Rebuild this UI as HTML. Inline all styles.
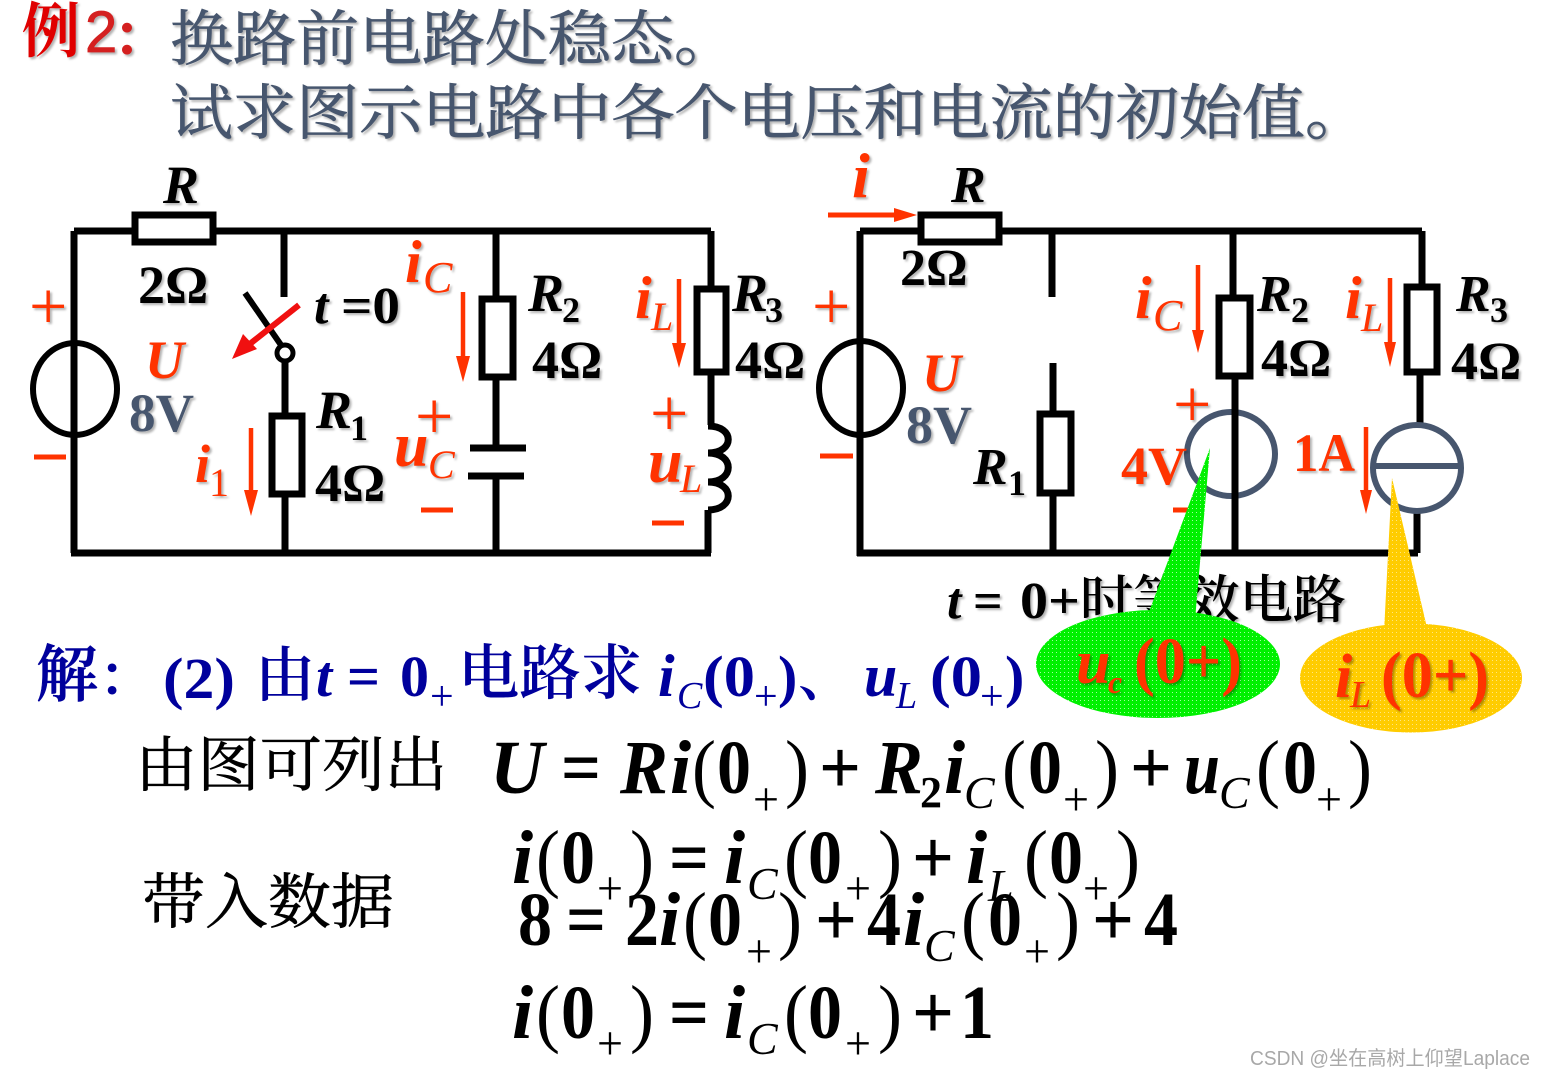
<!DOCTYPE html>
<html><head><meta charset="utf-8"><style>
html,body{margin:0;padding:0;background:#fff;width:1544px;height:1078px;overflow:hidden}
svg{display:block}
text{font-family:"Liberation Serif","Noto Serif CJK SC",serif;font-weight:bold}
.i{font-style:italic}
.cj{font-family:"Liberation Serif","Noto Serif CJK SC",serif}
.w{fill:none;stroke:#000;stroke-width:7}
.box{fill:#fff;stroke:#000;stroke-width:7}
.r{fill:#f30}
.k{fill:#000}
.g{fill:#47566e}
.s{filter:drop-shadow(2px 2px 1px rgba(0,0,0,.3))}
.bl{fill:#00009c}
.f{font-size:76px}
.sb{font-size:48px;font-weight:normal}
.a{fill:none;stroke:#f30;stroke-width:4.5}
.pl{font-size:68px;font-weight:normal}
.th{font-weight:normal;stroke-width:.7}
</style></head><body>
<svg width="1544" height="1078" viewBox="0 0 1544 1078" xmlns="http://www.w3.org/2000/svg">
<defs>
<pattern id="dg" width="4" height="4" patternUnits="userSpaceOnUse"><rect width="4" height="4" fill="#00f000"/><rect width="1" height="1" fill="#a0ffa0"/></pattern>
<pattern id="dy" width="4" height="4" patternUnits="userSpaceOnUse"><rect width="4" height="4" fill="#fc0"/><rect width="1" height="1" fill="#ffe680"/></pattern>
</defs>
<!-- title -->
<g class="s">
<text class="cj" x="22" y="52" font-size="60" fill="#e00000" textLength="58" lengthAdjust="spacingAndGlyphs">例</text>
<text x="85" y="52" font-size="58" fill="#d42020" style="font-family:'Liberation Sans';font-weight:normal;stroke:#d42020;stroke-width:.8">2</text>
<text class="cj" x="112" y="56" font-size="56" fill="#d42020">：</text>
<text class="cj g th" x="170" y="60" font-size="60" stroke="#47566e" textLength="567" lengthAdjust="spacingAndGlyphs">换路前电路处稳态。</text>
<text class="cj g th" x="170" y="134" font-size="60" stroke="#47566e" textLength="1198" lengthAdjust="spacingAndGlyphs">试求图示电路中各个电压和电流的初始值。</text>
</g>
<!-- left circuit -->
<path class="w" d="M74 231H711M74 231V553M71 553H711M284 231V297M285 361V553M496 231V447M496 476V553M711 231V425M708 510V553"/>
<rect class="box" x="135" y="215" width="78" height="27"/>
<rect class="box" x="272" y="416" width="30" height="78"/>
<rect class="box" x="482" y="299" width="31" height="78"/>
<rect class="box" x="697" y="289" width="29" height="83"/>
<ellipse cx="75" cy="389" rx="42" ry="46" fill="none" stroke="#000" stroke-width="6"/>
<path class="w" d="M74 342V436"/>
<path d="M245 293L281 345" stroke="#000" stroke-width="6" fill="none"/>
<circle cx="285" cy="353" r="8" fill="#fff" stroke="#000" stroke-width="5"/>
<path d="M299 305L246 347" stroke="#f01010" stroke-width="6"/>
<path d="M232 359L257 349L243 334Z" fill="#f01010"/>
<path d="M470 448H526M468 476H524" stroke="#000" stroke-width="7"/>
<path d="M708 426C735 426 735 453 708 453C735 453 735 482 708 482C735 482 735 510 708 510" fill="none" stroke="#000" stroke-width="7"/>
<!-- right circuit -->
<path class="w" d="M860 231H1422M860 231V556M857 553H1418M1052 231V297M1053 363V553M1233 231V297M1235 376V553M1422 231V287M1420 372V428M1417 510V553"/>
<rect class="box" x="921" y="215" width="78" height="27"/>
<rect class="box" x="1040" y="414" width="31" height="79"/>
<rect class="box" x="1219" y="298" width="31" height="78"/>
<rect class="box" x="1407" y="287" width="30" height="85"/>
<ellipse cx="861" cy="388" rx="42" ry="47" fill="none" stroke="#000" stroke-width="6"/>
<path class="w" d="M860 340V436"/>
<ellipse cx="1231" cy="454" rx="44" ry="42" fill="none" stroke="#47566e" stroke-width="6"/>
<path class="w" d="M1235 408V500"/>
<ellipse cx="1417" cy="468" rx="44" ry="43" fill="none" stroke="#47566e" stroke-width="6"/>
<path d="M1373 466H1461" stroke="#47566e" stroke-width="6"/>
<!-- red arrows -->
<g>
<path class="a" d="M251 428V492"/><path class="r" d="M244 490H258L251 516Z"/>
<path class="a" d="M463 292V358"/><path class="r" d="M456 356H470L463 382Z"/>
<path class="a" d="M679 279V345"/><path class="r" d="M672 343H686L679 368Z"/>
<path d="M828 215H896" stroke="#f30" stroke-width="5"/><path class="r" d="M894 208L917 215L894 222Z"/>
<path class="a" d="M1198 265V332"/><path class="r" d="M1192 330H1204L1198 353Z"/>
<path class="a" d="M1390 278V344"/><path class="r" d="M1384 342H1396L1390 367Z"/>
<path class="a" d="M1366 427V492"/><path class="r" d="M1360 490H1372L1366 514Z"/>
</g>
<!-- left labels -->
<g class="s">
<text class="k i" x="163" y="203" font-size="54">R</text>
<text class="k" x="138" y="303" font-size="54">2Ω</text>
<text class="k i" x="314" y="323" font-size="52">t</text>
<text class="k" x="341" y="323" font-size="52" textLength="59" lengthAdjust="spacingAndGlyphs">=0</text>
<text class="r i" x="145" y="378" font-size="54">U</text>
<text class="g" x="129" y="431" font-size="54" textLength="65" lengthAdjust="spacingAndGlyphs">8V</text>
<text class="r pl" x="29" y="329">+</text>
<text class="r i" x="195" y="482" font-size="54">i</text><text class="r" x="209" y="496" font-size="40" style="font-weight:normal">1</text>
<text class="k i" x="316" y="428" font-size="54">R</text><text class="k" x="350" y="440" font-size="36">1</text>
<text class="k" x="315" y="501" font-size="54">4Ω</text>
<text class="r i" x="405" y="282" font-size="60">i</text><text class="r i" x="423" y="292" font-size="44" style="font-weight:normal">C</text>
<text class="k i" x="528" y="311" font-size="54">R</text><text class="k" x="562" y="322" font-size="36">2</text>
<text class="k" x="532" y="378" font-size="54">4Ω</text>
<text class="r pl" x="415" y="439">+</text>
<text class="r i" x="394" y="466" font-size="62">u</text><text class="r i" x="428" y="478" font-size="40" style="font-weight:normal">C</text>
<text class="r i" x="635" y="318" font-size="60">i</text><text class="r i" x="651" y="330" font-size="40" style="font-weight:normal">L</text>
<text class="k i" x="732" y="311" font-size="54">R</text><text class="k" x="765" y="322" font-size="36">3</text>
<text class="k" x="735" y="378" font-size="54">4Ω</text>
<text class="r pl" x="650" y="436">+</text>
<text class="r i" x="648" y="482" font-size="62">u</text><text class="r i" x="680" y="492" font-size="40" style="font-weight:normal">L</text>
</g>
<path d="M34 457H66M421 510H453M652 523H684M820 456H853M1173 510H1188" stroke="#f30" stroke-width="5"/>
<!-- right labels -->
<g class="s">
<text class="r i" x="852" y="197" font-size="64">i</text>
<text class="k i" x="951" y="202" font-size="52">R</text>
<text class="k" x="900" y="285" font-size="52">2Ω</text>
<text class="r pl" x="812" y="329">+</text>
<text class="r i" x="922" y="391" font-size="54">U</text>
<text class="g" x="906" y="443" font-size="54" textLength="66" lengthAdjust="spacingAndGlyphs">8V</text>
<text class="k i" x="973" y="484" font-size="52">R</text><text class="k" x="1008" y="495" font-size="36">1</text>
<text class="r i" x="1135" y="318" font-size="60">i</text><text class="r i" x="1153" y="330" font-size="44" style="font-weight:normal">C</text>
<text class="k i" x="1257" y="311" font-size="52">R</text><text class="k" x="1291" y="322" font-size="36">2</text>
<text class="k" x="1261" y="376" font-size="54">4Ω</text>
<text class="r i" x="1345" y="318" font-size="60">i</text><text class="r i" x="1361" y="331" font-size="40" style="font-weight:normal">L</text>
<text class="k i" x="1456" y="311" font-size="52">R</text><text class="k" x="1490" y="322" font-size="36">3</text>
<text class="k" x="1451" y="379" font-size="54">4Ω</text>
<text class="r pl" x="1173" y="427">+</text>
<text class="r" x="1121" y="484" font-size="54" textLength="66" lengthAdjust="spacingAndGlyphs">4V</text>
<text class="r" x="1293" y="471" font-size="54" textLength="62" lengthAdjust="spacingAndGlyphs">1A</text>
</g>
<!-- t=0+ caption -->
<g class="s">
<text class="k i" x="947" y="618" font-size="52">t</text>
<text class="k" x="973" y="618" font-size="52">=</text>
<text class="k" x="1020" y="618" font-size="52" textLength="60" lengthAdjust="spacingAndGlyphs">0+</text>
<text class="k cj" x="1080" y="618" font-size="52" textLength="266" lengthAdjust="spacingAndGlyphs" style="font-weight:600">时等效电路</text>
</g>
<!-- callouts -->
<path d="M1036 664A122 54 0 1 0 1280 664A122 54 0 1 0 1036 664Z" fill="url(#dg)"/>
<path d="M1146 620L1210 448L1195 620Z" fill="url(#dg)"/>
<path d="M1300 678A110 54 0 1 0 1522 678A110 54 0 1 0 1300 678Z" fill="url(#dy)"/>
<path d="M1384 632L1392 478L1428 632Z" fill="url(#dy)"/>
<g class="s">
<text class="r i" x="1076" y="683" font-size="62">u</text><text class="r i" x="1108" y="693" font-size="32">c</text>
<text class="r" x="1134" y="683" font-size="66" textLength="108" lengthAdjust="spacingAndGlyphs">(0+)</text>
<text class="r i" x="1335" y="697" font-size="62">i</text><text class="r i" x="1350" y="707" font-size="38" style="font-weight:normal">L</text>
<text class="r" x="1381" y="697" font-size="66" textLength="108" lengthAdjust="spacingAndGlyphs">(0+)</text>
</g>
<!-- solve line -->
<g class="bl">
<text class="cj" x="36" y="696" font-size="62" stroke="#00009c" style="font-weight:600;stroke-width:.6">解</text>
<text class="cj" x="98" y="696" font-size="56" style="font-weight:600">：</text>
<text x="163" y="698" font-size="58" textLength="72" lengthAdjust="spacingAndGlyphs">(2)</text>
<text class="cj" x="255" y="696" font-size="60" style="font-weight:600">由</text>
<text class="i" x="316" y="696" font-size="58">t</text>
<text x="347" y="696" font-size="58">=</text>
<text x="400" y="696" font-size="58">0</text>
<text x="430" y="710" font-size="42" style="font-weight:normal">+</text>
<text class="cj" x="458" y="694" font-size="60" textLength="184" lengthAdjust="spacingAndGlyphs" style="font-weight:600">电路求</text>
<text class="i" x="658" y="696" font-size="60">i</text>
<text class="i" x="677" y="708" font-size="38" style="font-weight:normal">C</text>
<text x="703" y="696" font-size="58" textLength="52" lengthAdjust="spacingAndGlyphs">(0</text>
<text x="754" y="710" font-size="42" style="font-weight:normal">+</text>
<text x="778" y="696" font-size="58">)</text>
<text class="cj" x="798" y="696" font-size="56" style="font-weight:600">、</text>
<text class="i" x="864" y="696" font-size="60">u</text>
<text class="i" x="896" y="708" font-size="38" style="font-weight:normal">L</text>
<text x="930" y="696" font-size="58" textLength="52" lengthAdjust="spacingAndGlyphs">(0</text>
<text x="980" y="710" font-size="42" style="font-weight:normal">+</text>
<text x="1005" y="696" font-size="58">)</text>
</g>
<!-- Chinese labels -->
<g class="k">
<text class="cj" x="135" y="786" font-size="60" stroke="#000" textLength="312" lengthAdjust="spacingAndGlyphs" style="font-weight:normal;stroke-width:.6">由图可列出</text>
<text class="cj" x="142" y="923" font-size="60" stroke="#000" textLength="252" lengthAdjust="spacingAndGlyphs" style="font-weight:normal;stroke-width:.6">带入数据</text>
</g>
<!-- equation 1 -->
<g class="k f">
<text class="i" x="490" y="793" textLength="54" lengthAdjust="spacingAndGlyphs">U</text>
<text x="561" y="793" textLength="40" lengthAdjust="spacingAndGlyphs">=</text>
<text class="i" x="620" y="793" textLength="48" lengthAdjust="spacingAndGlyphs">R</text>
<text class="i" x="670" y="793">i</text>
<text x="692" y="793" style="font-weight:normal" textLength="24" lengthAdjust="spacingAndGlyphs">(</text>
<text x="717" y="793" textLength="34" lengthAdjust="spacingAndGlyphs">0</text>
<text class="sb" x="753" y="815" textLength="26" lengthAdjust="spacingAndGlyphs">+</text>
<text x="785" y="793" style="font-weight:normal" textLength="24" lengthAdjust="spacingAndGlyphs">)</text>
<text x="819" y="793" textLength="42" lengthAdjust="spacingAndGlyphs">+</text>
<text class="i" x="875" y="793" textLength="48" lengthAdjust="spacingAndGlyphs">R</text>
<text x="920" y="807" font-size="44" style="font-size:44px">2</text>
<text class="i" x="944" y="793">i</text>
<text class="i sb" x="964" y="808" style="font-size:46px">C</text>
<text x="1002" y="793" style="font-weight:normal" textLength="24" lengthAdjust="spacingAndGlyphs">(</text>
<text x="1028" y="793" textLength="34" lengthAdjust="spacingAndGlyphs">0</text>
<text class="sb" x="1063" y="815" textLength="26" lengthAdjust="spacingAndGlyphs">+</text>
<text x="1095" y="793" style="font-weight:normal" textLength="24" lengthAdjust="spacingAndGlyphs">)</text>
<text x="1130" y="793" textLength="42" lengthAdjust="spacingAndGlyphs">+</text>
<text class="i" x="1184" y="793" textLength="36" lengthAdjust="spacingAndGlyphs">u</text>
<text class="i sb" x="1219" y="808" style="font-size:46px">C</text>
<text x="1256" y="793" style="font-weight:normal" textLength="24" lengthAdjust="spacingAndGlyphs">(</text>
<text x="1283" y="793" textLength="34" lengthAdjust="spacingAndGlyphs">0</text>
<text class="sb" x="1316" y="815" textLength="26" lengthAdjust="spacingAndGlyphs">+</text>
<text x="1348" y="793" style="font-weight:normal" textLength="24" lengthAdjust="spacingAndGlyphs">)</text>
</g>
<!-- equation 2 -->
<g class="k f">
<text class="i" x="512" y="883">i</text>
<text x="536" y="883" style="font-weight:normal" textLength="24" lengthAdjust="spacingAndGlyphs">(</text>
<text x="561" y="883" textLength="34" lengthAdjust="spacingAndGlyphs">0</text>
<text class="sb" x="597" y="904" textLength="26" lengthAdjust="spacingAndGlyphs">+</text>
<text x="630" y="883" style="font-weight:normal" textLength="24" lengthAdjust="spacingAndGlyphs">)</text>
<text x="669" y="883" textLength="40" lengthAdjust="spacingAndGlyphs">=</text>
<text class="i" x="724" y="883">i</text>
<text class="i sb" x="747" y="899" style="font-size:46px">C</text>
<text x="784" y="883" style="font-weight:normal" textLength="24" lengthAdjust="spacingAndGlyphs">(</text>
<text x="808" y="883" textLength="34" lengthAdjust="spacingAndGlyphs">0</text>
<text class="sb" x="845" y="904" textLength="26" lengthAdjust="spacingAndGlyphs">+</text>
<text x="878" y="883" style="font-weight:normal" textLength="24" lengthAdjust="spacingAndGlyphs">)</text>
<text x="912" y="883" textLength="42" lengthAdjust="spacingAndGlyphs">+</text>
<text class="i" x="966" y="883">i</text>
<text class="i sb" x="988" y="901" style="font-size:46px">L</text>
<text x="1024" y="883" style="font-weight:normal" textLength="24" lengthAdjust="spacingAndGlyphs">(</text>
<text x="1049" y="883" textLength="34" lengthAdjust="spacingAndGlyphs">0</text>
<text class="sb" x="1083" y="904" textLength="26" lengthAdjust="spacingAndGlyphs">+</text>
<text x="1116" y="883" style="font-weight:normal" textLength="24" lengthAdjust="spacingAndGlyphs">)</text>
</g>
<!-- equation 3 -->
<g class="k f">
<text x="518" y="945" textLength="34" lengthAdjust="spacingAndGlyphs">8</text>
<text x="566" y="945" textLength="40" lengthAdjust="spacingAndGlyphs">=</text>
<text x="625" y="945" textLength="34" lengthAdjust="spacingAndGlyphs">2</text>
<text class="i" x="659" y="945">i</text>
<text x="683" y="945" style="font-weight:normal" textLength="24" lengthAdjust="spacingAndGlyphs">(</text>
<text x="708" y="945" textLength="34" lengthAdjust="spacingAndGlyphs">0</text>
<text class="sb" x="746" y="967" textLength="26" lengthAdjust="spacingAndGlyphs">+</text>
<text x="778" y="945" style="font-weight:normal" textLength="24" lengthAdjust="spacingAndGlyphs">)</text>
<text x="815" y="945" textLength="42" lengthAdjust="spacingAndGlyphs">+</text>
<text x="867" y="945" textLength="34" lengthAdjust="spacingAndGlyphs">4</text>
<text class="i" x="903" y="945">i</text>
<text class="i sb" x="924" y="961" style="font-size:46px">C</text>
<text x="961" y="945" style="font-weight:normal" textLength="24" lengthAdjust="spacingAndGlyphs">(</text>
<text x="988" y="945" textLength="34" lengthAdjust="spacingAndGlyphs">0</text>
<text class="sb" x="1024" y="967" textLength="26" lengthAdjust="spacingAndGlyphs">+</text>
<text x="1056" y="945" style="font-weight:normal" textLength="24" lengthAdjust="spacingAndGlyphs">)</text>
<text x="1092" y="945" textLength="42" lengthAdjust="spacingAndGlyphs">+</text>
<text x="1144" y="945" textLength="34" lengthAdjust="spacingAndGlyphs">4</text>
</g>
<!-- equation 4 -->
<g class="k f">
<text class="i" x="512" y="1038">i</text>
<text x="536" y="1038" style="font-weight:normal" textLength="24" lengthAdjust="spacingAndGlyphs">(</text>
<text x="561" y="1038" textLength="34" lengthAdjust="spacingAndGlyphs">0</text>
<text class="sb" x="597" y="1059" textLength="26" lengthAdjust="spacingAndGlyphs">+</text>
<text x="630" y="1038" style="font-weight:normal" textLength="24" lengthAdjust="spacingAndGlyphs">)</text>
<text x="669" y="1038" textLength="40" lengthAdjust="spacingAndGlyphs">=</text>
<text class="i" x="724" y="1038">i</text>
<text class="i sb" x="747" y="1054" style="font-size:46px">C</text>
<text x="784" y="1038" style="font-weight:normal" textLength="24" lengthAdjust="spacingAndGlyphs">(</text>
<text x="808" y="1038" textLength="34" lengthAdjust="spacingAndGlyphs">0</text>
<text class="sb" x="845" y="1059" textLength="26" lengthAdjust="spacingAndGlyphs">+</text>
<text x="878" y="1038" style="font-weight:normal" textLength="24" lengthAdjust="spacingAndGlyphs">)</text>
<text x="912" y="1038" textLength="42" lengthAdjust="spacingAndGlyphs">+</text>
<text x="960" y="1038" textLength="34" lengthAdjust="spacingAndGlyphs">1</text>
</g>
<text x="1250" y="1065" font-size="20" fill="#a8a8a8" style="font-family:'Liberation Sans','Noto Sans CJK SC',sans-serif;font-weight:normal" textLength="280" lengthAdjust="spacingAndGlyphs">CSDN @坐在高树上仰望Laplace</text>
</svg>
</body></html>
